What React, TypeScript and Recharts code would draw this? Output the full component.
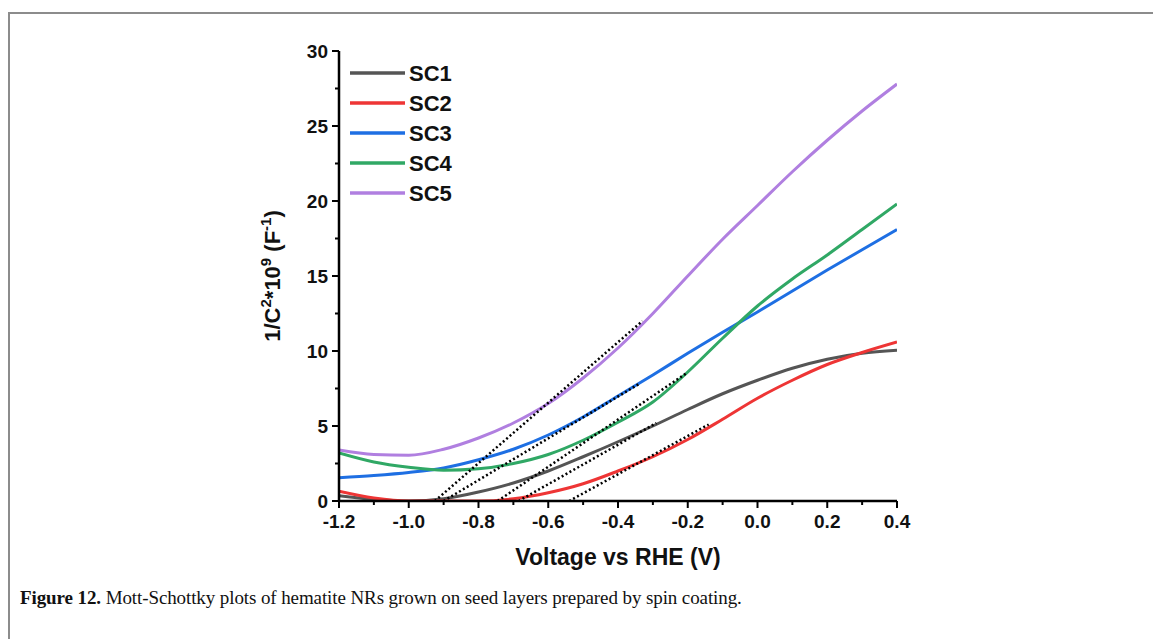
import React from 'react';
import { LineChart, Line, XAxis, YAxis } from 'recharts';

// Mott-Schottky curves (x in V vs RHE, y in 1/C^2 * 1e9)
const voltages = [-1.2, -1.1, -1.0, -0.9, -0.8, -0.7, -0.6, -0.5, -0.4, -0.3, -0.2, -0.1, 0.0, 0.1, 0.2, 0.3, 0.4];
const sc1 = [0.35, 0.1, 0.0, 0.15, 0.6, 1.2, 2.0, 2.95, 3.95, 5.0, 6.1, 7.15, 8.05, 8.85, 9.45, 9.85, 10.05];
const sc2 = [0.65, 0.2, 0.0, 0.0, 0.0, 0.15, 0.55, 1.15, 2.0, 2.95, 4.1, 5.45, 6.85, 8.05, 9.1, 9.9, 10.6];
const sc3 = [1.55, 1.7, 1.9, 2.2, 2.75, 3.45, 4.4, 5.6, 7.0, 8.4, 9.85, 11.25, 12.6, 14.0, 15.4, 16.75, 18.1];
const sc4 = [3.2, 2.6, 2.25, 2.05, 2.15, 2.5, 3.1, 4.05, 5.25, 6.6, 8.6, 10.85, 13.0, 14.8, 16.4, 18.1, 19.8];
const sc5 = [3.4, 3.1, 3.05, 3.45, 4.2, 5.2, 6.5, 8.2, 10.2, 12.5, 15.0, 17.45, 19.7, 21.95, 24.05, 26.0, 27.8];

const seriesNames = ['SC1', 'SC2', 'SC3', 'SC4', 'SC5'];
const seriesColors = ['#555555', '#ee3535', '#1e6fe3', '#30a865', '#b07fe0'];

// linear fits (dotted), two end points each
const fitSC1 = { x: [-0.685, -0.29], y: [0, 5.2] };
const fitSC2 = { x: [-0.54, -0.14], y: [0, 5.1] };
const fitSC3 = { x: [-0.9, -0.34], y: [0, 7.8] };
const fitSC4 = { x: [-0.745, -0.205], y: [0, 8.5] };
const fitSC5 = { x: [-0.925, -0.33], y: [0, 12.0] };

const xTicks = [-1.2, -1.1, -1.0, -0.9, -0.8, -0.7, -0.6, -0.5, -0.4, -0.3, -0.2, -0.1, 0.0, 0.1, 0.2, 0.3, 0.4];
const yTicks = [0, 2.5, 5, 7.5, 10, 12.5, 15, 17.5, 20, 22.5, 25, 27.5, 30];

const FONT = '"Liberation Sans", Arial, sans-serif';

const table = voltages.map((x, i) => ({
  x,
  SC1: sc1[i],
  SC2: sc2[i],
  SC3: sc3[i],
  SC4: sc4[i],
  SC5: sc5[i],
}));

const fits = [fitSC1, fitSC2, fitSC3, fitSC4, fitSC5].map((f) =>
  f.x.map((x, i) => ({ x, fit: f.y[i] }))
);

function XTick(props: any) {
  const { x, y, payload } = props;
  const v = payload.value as number;
  const major = Math.abs(Math.round(v * 10)) % 2 === 0;
  return (
    <g>
      <line x1={x} x2={x} y1={y} y2={y + (major ? 7 : 4)} stroke="#000" strokeWidth={2} />
      {major && (
        <text x={x} y={y + 27} textAnchor="middle" fontSize={19} fontWeight="bold" fontFamily={FONT} fill="#111">
          {v.toFixed(1)}
        </text>
      )}
    </g>
  );
}

function YTick(props: any) {
  const { x, y, payload } = props;
  const v = payload.value as number;
  const major = v % 5 === 0;
  return (
    <g>
      <line x1={x} x2={x - (major ? 7 : 4)} y1={y} y2={y} stroke="#000" strokeWidth={2} />
      {major && (
        <text x={x - 11} y={y + 7} textAnchor="end" fontSize={19} fontWeight="bold" fontFamily={FONT} fill="#111">
          {v}
        </text>
      )}
    </g>
  );
}

const XLabel = ({ viewBox }: any) => (
  <text x={viewBox.x + viewBox.width / 2} y={viewBox.y + 64} textAnchor="middle" fontSize={23} fontWeight="bold" fontFamily={FONT} fill="#111">
    Voltage vs RHE (V)
  </text>
);

const YLabel = ({ viewBox }: any) => {
  const cx = viewBox.x + 21;
  const cy = viewBox.y + viewBox.height / 2;
  return (
    <text transform={`translate(${cx},${cy}) rotate(-90)`} textAnchor="middle" fontSize={22} fontWeight="bold" fontFamily={FONT} fill="#111">
      1/C<tspan dy={-9} fontSize={15}>2</tspan>
      <tspan dy={9}>*10</tspan>
      <tspan dy={-9} fontSize={15}>9</tspan>
      <tspan dy={9}> (F</tspan>
      <tspan dy={-9} fontSize={15}>-1</tspan>
      <tspan dy={9}>)</tspan>
    </text>
  );
};

export default function App() {
  return (
    <div style={{ position: 'absolute', left: 0, top: 0, width: 1153, height: 639, background: '#fff', overflow: 'hidden' }}>
      {/* page frame */}
      <div style={{ position: 'absolute', left: 8, top: 12, width: 1145, height: 627, borderTop: '2px solid #8c8c8c', borderLeft: '2px solid #8c8c8c' }} />

      <div style={{ position: 'absolute', left: 0, top: 0 }}>
        <LineChart width={1153} height={639} data={table} margin={{ top: 51, right: 256, bottom: 108, left: 259 }}>
          <XAxis
            dataKey="x"
            type="number"
            domain={[-1.2, 0.4]}
            ticks={xTicks}
            interval={0}
            tick={<XTick />}
            tickSize={0}
            tickMargin={0}
            height={30}
            axisLine={{ stroke: '#000', strokeWidth: 2.5 }}
            tickLine={false}
            allowDataOverflow
            label={<XLabel />}
          />
          <XAxis xAxisId="top" orientation="top" type="number" domain={[-1.2, 0.4]} height={0} tick={false} tickLine={false} axisLine={{ stroke: '#000', strokeWidth: 2.5 }} />
          <YAxis
            type="number"
            domain={[0, 30]}
            ticks={yTicks}
            interval={0}
            tick={<YTick />}
            tickSize={0}
            tickMargin={0}
            width={80}
            axisLine={{ stroke: '#000', strokeWidth: 2.5 }}
            tickLine={false}
            allowDataOverflow
            label={<YLabel />}
          />
          <YAxis yAxisId="right" orientation="right" type="number" domain={[0, 30]} width={0} tick={false} tickLine={false} axisLine={{ stroke: '#000', strokeWidth: 2.5 }} />

          {seriesNames.map((name, i) => (
            <Line
              key={name}
              dataKey={name}
              type="monotone"
              stroke={seriesColors[i]}
              strokeWidth={3}
              dot={false}
              isAnimationActive={false}
            />
          ))}
          {fits.map((d, i) => (
            <Line
              key={`fit-${i}`}
              data={d}
              dataKey="fit"
              type="linear"
              stroke="#000"
              strokeWidth={2.5}
              strokeDasharray="2 2.5"
              dot={false}
              isAnimationActive={false}
            />
          ))}
        </LineChart>
      </div>

      {/* legend */}
      <svg style={{ position: 'absolute', left: 345, top: 58 }} width={120} height={150}>
        {seriesNames.map((name, i) => (
          <g key={name}>
            <line x1={5} x2={60} y1={15 + i * 30} y2={15 + i * 30} stroke={seriesColors[i]} strokeWidth={3.5} />
            <text x={64} y={23 + i * 30} fontSize={22} fontWeight="bold" fontFamily={FONT} fill="#111">
              {name}
            </text>
          </g>
        ))}
      </svg>

      {/* caption */}
      <div style={{ position: 'absolute', left: 20, top: 587, fontFamily: '"Liberation Serif", "Times New Roman", serif', fontSize: 19, letterSpacing: -0.1, color: '#111', whiteSpace: 'nowrap' }}>
        <b>Figure 12.</b> Mott-Schottky plots of hematite NRs grown on seed layers prepared by spin coating.
      </div>
    </div>
  );
}
